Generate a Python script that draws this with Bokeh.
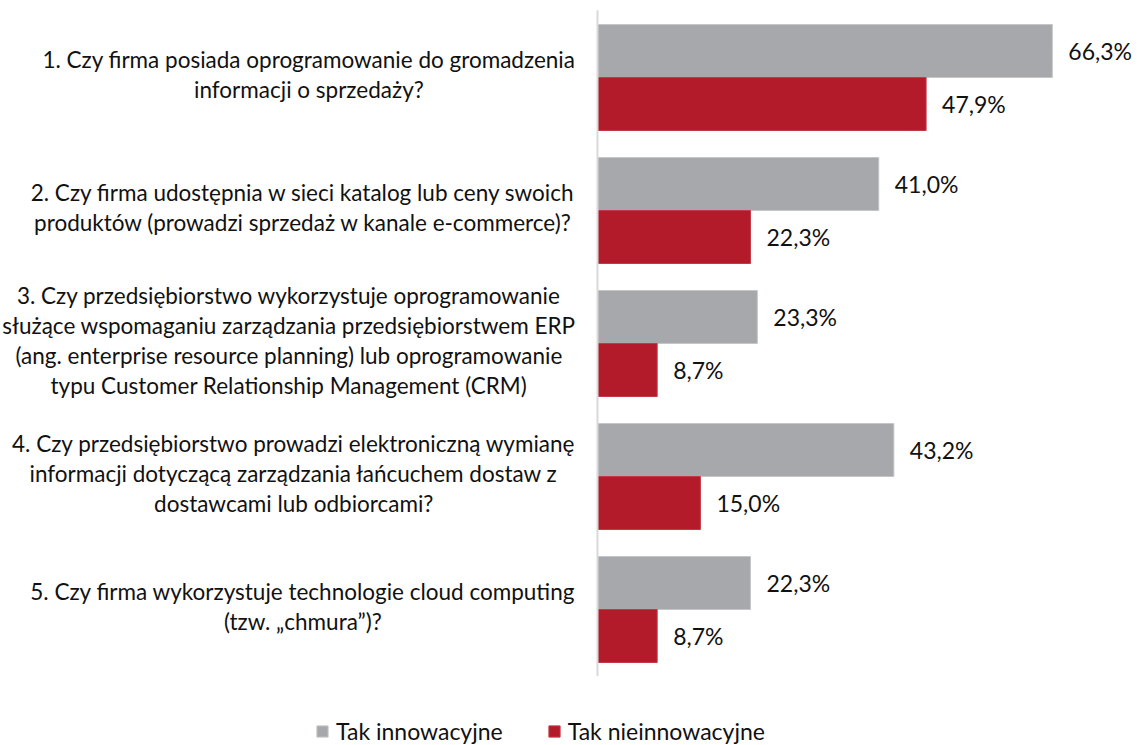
from bokeh.plotting import figure
from bokeh.models import Range1d, ColumnDataSource, Legend, LegendItem
from bokeh.core.properties import value
from bokeh.embed import file_html
from bokeh.resources import INLINE

questions = [
    "1. Czy firma posiada oprogramowanie do gromadzenia\ninformacji o sprzedaży?",
    "2. Czy firma udostępnia w sieci katalog lub ceny swoich\nproduktów (prowadzi sprzedaż w kanale e-commerce)?",
    "3. Czy przedsiębiorstwo wykorzystuje oprogramowanie\nsłużące wspomaganiu zarządzania przedsiębiorstwem ERP\n(ang. enterprise resource planning) lub oprogramowanie\ntypu Customer Relationship Management (CRM)",
    "4. Czy przedsiębiorstwo prowadzi elektroniczną wymianę\ninformacji dotyczącą zarządzania łańcuchem dostaw z\ndostawcami lub odbiorcami?",
    "5. Czy firma wykorzystuje technologie cloud computing\n(tzw. „chmura”)?",
]
innowacyjne = [66.3, 41.0, 23.3, 43.2, 22.3]
nieinnowacyjne = [47.9, 22.3, 8.7, 15.0, 8.7]
series_names = ["Tak innowacyjne", "Tak nieinnowacyjne"]

GRAY = "#A6A8AB"
RED = "#B31B2B"
FONT = "Lato"
TXT = "#111111"

W, H = 1137, 745
AXIS_PX = 597.0      # axis position in figure pixels
PX_PER = 6.86        # pixels per percent
GROUP_PX = 133.0     # pixels per group
TOP0_PX = 77.0       # figure px of group 0 centre

x0 = -AXIS_PX / PX_PER
x1 = (W - AXIS_PX) / PX_PER
y_top = -TOP0_PX / GROUP_PX
y_bot = (H - TOP0_PX) / GROUP_PX

p = figure(width=W, height=H, output_backend="svg", toolbar_location=None,
           x_range=Range1d(x0, x1), y_range=Range1d(y_bot, y_top),
           min_border=0, outline_line_color=None)
p.axis.visible = False
p.grid.visible = False
p.background_fill_color = None
p.border_fill_color = "white"

idx = list(range(len(questions)))
bh = 53.0 / GROUP_PX
src = ColumnDataSource(dict(
    y_in=[i - bh / 2 for i in idx],
    y_non=[i + bh / 2 for i in idx],
    v_in=innowacyjne,
    v_non=nieinnowacyjne,
    l_in=[f"{v:.1f}%".replace(".", ",") for v in innowacyjne],
    l_non=[f"{v:.1f}%".replace(".", ",") for v in nieinnowacyjne],
))

r1 = p.hbar(y="y_in", right="v_in", left=0, height=bh, source=src,
            fill_color=GRAY, line_color="#C4C6C8", line_width=1)
r2 = p.hbar(y="y_non", right="v_non", left=0, height=bh, source=src,
            fill_color=RED, line_color="#C23A47", line_width=1)

# axis line
p.segment(x0=[0], y0=[-0.505], x1=[0], y1=[4.5], line_color="#D9D9D9", line_width=2)

for ycol, vcol, lcol in (("y_in", "v_in", "l_in"), ("y_non", "v_non", "l_non")):
    p.text(x=vcol, y=ycol, text=lcol, source=src, x_offset=16,
           text_align="left", text_baseline="middle",
           text_font=value(FONT), text_font_size="23px", text_color=TXT)

# question labels: block right-aligned near the axis, lines centred in block
rx = (575 - AXIS_PX) / PX_PER
qsrc = ColumnDataSource(dict(
    x=[rx] * len(questions),
    y=[i - 3 / GROUP_PX for i in idx],
    text=questions,
))
p.text(x="x", y="y", text="text", source=qsrc, anchor="center_right",
       text_align="center", text_baseline="middle", text_line_height=1.11,
       text_font=value(FONT), text_font_size="22.5px", text_color=TXT)

legend = Legend(items=[LegendItem(label=series_names[0], renderers=[r1]),
                       LegendItem(label=series_names[1], renderers=[r2])],
                orientation="horizontal", location=(315, 0),
                glyph_width=14, glyph_height=14, label_standoff=7, spacing=44,
                padding=0, margin=0, border_line_color=None,
                background_fill_alpha=0,
                label_text_font=FONT, label_text_font_size="23px",
                label_text_color=TXT)
p.add_layout(legend)

open("out.html", "w").write(file_html(p, INLINE))
